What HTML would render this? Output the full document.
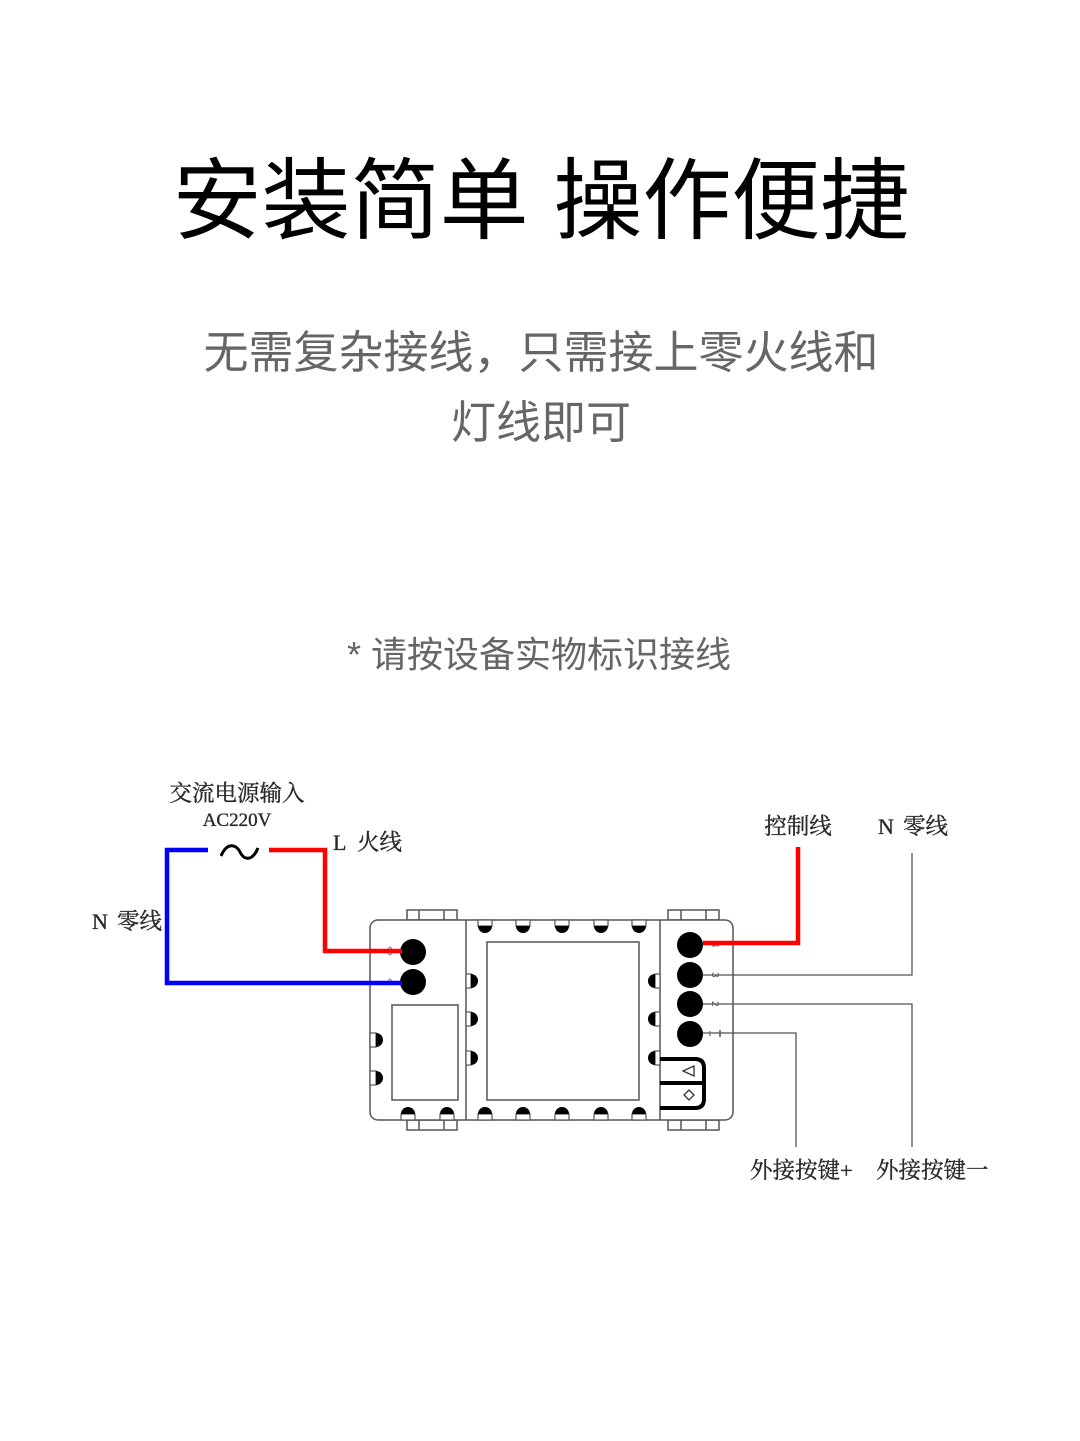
<!DOCTYPE html>
<html><head><meta charset="utf-8"><style>
html,body{margin:0;padding:0;background:#fff;}
svg{display:block;}
.t{font-family:"Liberation Sans","Noto Sans CJK SC",sans-serif;}
.s{font-family:"Liberation Serif","Noto Serif CJK SC",serif;fill:#2a2a2a;stroke:#2a2a2a;stroke-width:0.35;}
</style></head><body>
<svg width="1080" height="1441" viewBox="0 0 1080 1441" xmlns="http://www.w3.org/2000/svg">
<rect width="1080" height="1441" fill="#fff"/>
<text class="t" x="541" y="232" font-size="89" text-anchor="middle" fill="#000">安装简单 操作便捷</text>
<text class="t" x="541" y="368" font-size="45" text-anchor="middle" fill="#666">无需复杂接线，只需接上零火线和</text>
<text class="t" x="541" y="438" font-size="45" text-anchor="middle" fill="#666">灯线即可</text>
<text class="t" x="539" y="667" font-size="36" text-anchor="middle" fill="#666">* 请按设备实物标识接线</text>

<!-- labels -->
<text class="s" x="237" y="801" font-size="22.5" text-anchor="middle">交流电源输入</text>
<text class="s" x="237" y="826" font-size="19" text-anchor="middle">AC220V</text>
<text class="s" x="333" y="850" font-size="22">L</text>
<text class="s" x="357" y="850" font-size="22.5">火线</text>
<text class="s" x="92" y="929" font-size="22">N</text>
<text class="s" x="117" y="929" font-size="22.5">零线</text>
<text class="s" x="798" y="834" font-size="22.5" text-anchor="middle">控制线</text>
<text class="s" x="878" y="834" font-size="22">N</text>
<text class="s" x="903" y="834" font-size="22.5">零线</text>
<text class="s" x="750" y="1178" font-size="22.5">外接按键+</text>
<text class="s" x="876" y="1178" font-size="22.5">外接按键一</text>

<!-- tilde -->
<path d="M221,856 C227,842 236,844 240,852 C244,860 252,862 258,848" fill="none" stroke="#000" stroke-width="3"/>

<!-- device -->
<g fill="#fff" stroke="#555" stroke-width="1.5">
<rect x="407" y="910" width="50" height="10"/>
<rect x="668" y="910" width="51" height="10"/>
<rect x="407" y="1120" width="50" height="10"/>
<rect x="668" y="1120" width="51" height="10"/>
<line x1="419" y1="910" x2="419" y2="920"/><line x1="444" y1="910" x2="444" y2="920"/>
<line x1="681" y1="910" x2="681" y2="920"/><line x1="706" y1="910" x2="706" y2="920"/>
<line x1="419" y1="1120" x2="419" y2="1130"/><line x1="444" y1="1120" x2="444" y2="1130"/>
<line x1="681" y1="1120" x2="681" y2="1130"/><line x1="706" y1="1120" x2="706" y2="1130"/>
<rect x="370" y="920" width="363" height="200" rx="8"/>
<line x1="466" y1="920" x2="466" y2="1120"/>
<line x1="660" y1="920" x2="660" y2="1120"/>
<rect x="487" y="942" width="152" height="158"/>
<rect x="392" y="1005" width="66" height="95"/>
</g>

<!-- bumps -->
<g stroke="#555" stroke-width="1.2">
<g fill="#fff">
<rect x="478" y="920" width="14" height="6"/><rect x="516" y="920" width="14" height="6"/><rect x="555" y="920" width="14" height="6"/><rect x="594" y="920" width="14" height="6"/><rect x="632" y="920" width="14" height="6"/>
<rect x="478" y="1114" width="14" height="6"/><rect x="516" y="1114" width="14" height="6"/><rect x="555" y="1114" width="14" height="6"/><rect x="594" y="1114" width="14" height="6"/><rect x="632" y="1114" width="14" height="6"/>
<rect x="401" y="1114" width="14" height="6"/><rect x="440" y="1114" width="14" height="6"/>
<rect x="466" y="974" width="5" height="14"/><rect x="466" y="1012" width="5" height="14"/><rect x="466" y="1051" width="5" height="14"/>
<rect x="655" y="974" width="5" height="14"/><rect x="655" y="1012" width="5" height="14"/><rect x="655" y="1051" width="5" height="14"/>
<rect x="370" y="1033" width="6" height="14"/><rect x="370" y="1071" width="6" height="14"/>
</g>
</g>
<g fill="#000">
<path d="M478,926 A7,7 0 0 0 492,926 Z"/><path d="M516,926 A7,7 0 0 0 530,926 Z"/><path d="M555,926 A7,7 0 0 0 569,926 Z"/><path d="M594,926 A7,7 0 0 0 608,926 Z"/><path d="M632,926 A7,7 0 0 0 646,926 Z"/>
<path d="M478,1114 A7,7 0 0 1 492,1114 Z"/><path d="M516,1114 A7,7 0 0 1 530,1114 Z"/><path d="M555,1114 A7,7 0 0 1 569,1114 Z"/><path d="M594,1114 A7,7 0 0 1 608,1114 Z"/><path d="M632,1114 A7,7 0 0 1 646,1114 Z"/>
<path d="M401,1114 A7,7 0 0 1 415,1114 Z"/><path d="M440,1114 A7,7 0 0 1 454,1114 Z"/>
<path d="M471,974 A7,7 0 0 1 471,988 Z"/><path d="M471,1012 A7,7 0 0 1 471,1026 Z"/><path d="M471,1051 A7,7 0 0 1 471,1065 Z"/>
<path d="M655,974 A7,7 0 0 0 655,988 Z"/><path d="M655,1012 A7,7 0 0 0 655,1026 Z"/><path d="M655,1051 A7,7 0 0 0 655,1065 Z"/>
<path d="M376,1033 A7,7 0 0 1 376,1047 Z"/><path d="M376,1071 A7,7 0 0 1 376,1085 Z"/>
</g>

<!-- terminals -->
<g fill="#000">
<circle cx="413" cy="952" r="13"/>
<circle cx="413" cy="982" r="13"/>
<circle cx="690" cy="945" r="13"/>
<circle cx="690" cy="975" r="13"/>
<circle cx="690" cy="1004" r="13"/>
<circle cx="690" cy="1034" r="13"/>
</g>
<g fill="none" stroke="#777" stroke-width="1">
<ellipse cx="390" cy="951" rx="2" ry="4"/>
<ellipse cx="390" cy="982" rx="1.5" ry="3"/>
</g>
<g font-family="Liberation Sans, sans-serif" font-size="10" fill="#555">
<text x="713" y="949" transform="rotate(90 716 945)">4</text>
<text x="713" y="979" transform="rotate(90 716 975)">3</text>
<text x="713" y="1008" transform="rotate(90 716 1004)">2</text>
</g>
<line x1="710" y1="1031" x2="710" y2="1036" stroke="#555" stroke-width="1"/>
<line x1="720" y1="1030" x2="720" y2="1037" stroke="#555" stroke-width="1.5"/>

<!-- button block -->
<path d="M660,1059 H695 Q704,1059 704,1068 V1099 Q704,1108 695,1108 H660" fill="none" stroke="#000" stroke-width="4"/>
<line x1="660" y1="1083" x2="704" y2="1083" stroke="#000" stroke-width="4"/>
<path d="M683,1071 L694,1066 L694,1076 Z" fill="none" stroke="#333" stroke-width="1.3"/>
<path d="M689,1090 L694,1095 L689,1100 L684,1095 Z" fill="none" stroke="#333" stroke-width="1.3"/>

<!-- wires -->
<polyline points="208,850 167,850 167,983 402,983" fill="none" stroke="#0000ff" stroke-width="4.5"/>
<polyline points="269,850 325,850 325,951 402,951" fill="none" stroke="#ff0000" stroke-width="4.5"/>
<polyline points="703,943 798,943 798,847" fill="none" stroke="#ff0000" stroke-width="4.5"/>
<g fill="none" stroke="#555" stroke-width="1.3">
<polyline points="703,975 912,975 912,853"/>
<polyline points="703,1004 912,1004 912,1147"/>
<polyline points="703,1033 796,1033 796,1147"/>
</g>
</svg>
</body></html>
